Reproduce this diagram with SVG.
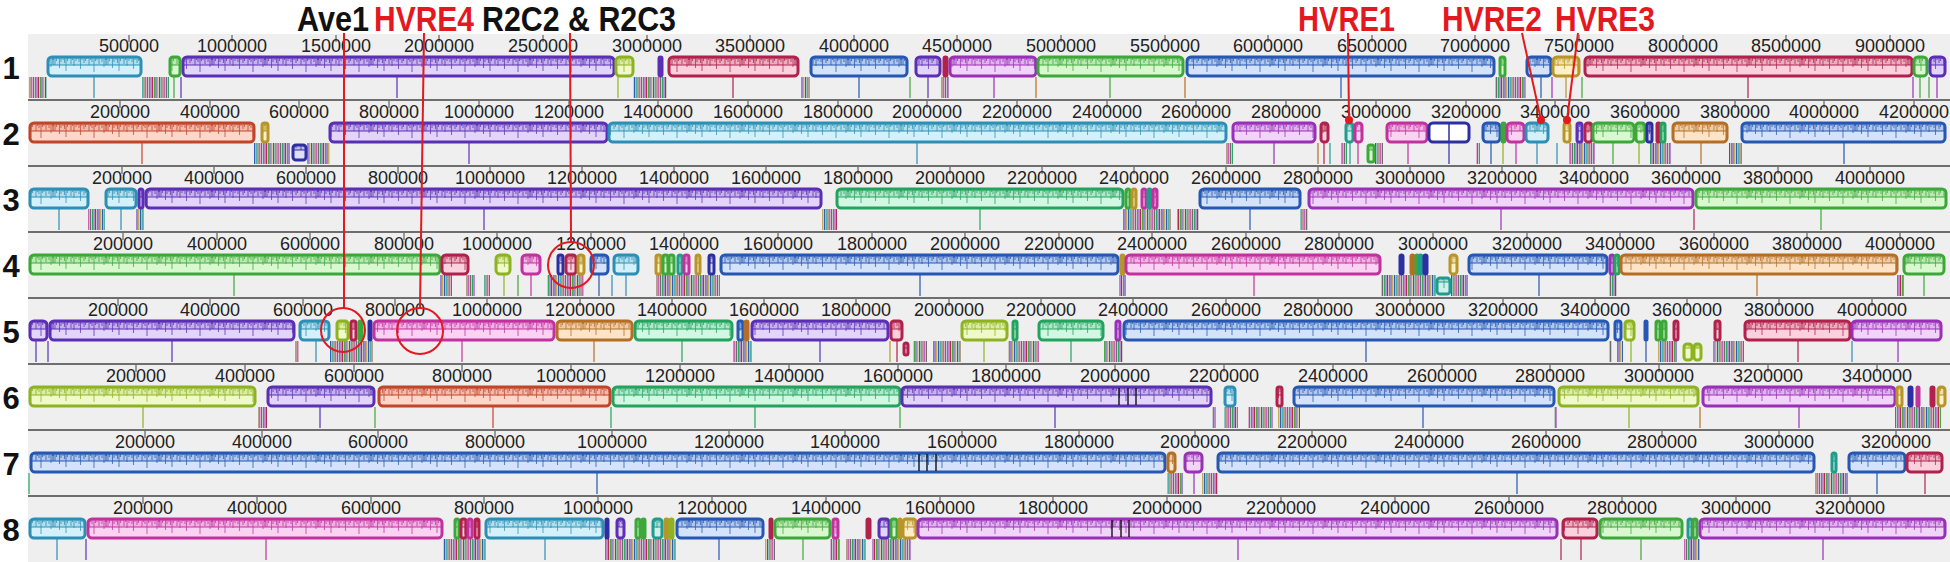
<svg xmlns="http://www.w3.org/2000/svg" xmlns:xlink="http://www.w3.org/1999/xlink" width="1950" height="562" viewBox="0 0 1950 562">
<style>
.bg{fill:#efefef}
.sep{stroke:#6e6e6e;stroke-width:2}
.rt{font-family:"Liberation Sans",Arial,sans-serif;font-size:18px;fill:#222;text-anchor:middle}
.tk{stroke:#444;stroke-width:1;fill:none}
.b{stroke-width:3}
.l{stroke-width:1.2;fill:none}
.cl{fill:url(#st)}
.num{font-family:"Liberation Sans",Arial,sans-serif;font-weight:bold;font-size:31px;fill:#111;text-anchor:middle}
.ann{font-family:"Liberation Sans",Arial,sans-serif;font-weight:bold;font-size:35px}
.red{fill:#e3191f}
.blk{fill:#111}
.rl{stroke:#e3191f;stroke-width:2;fill:none}
.dot{fill:#e3191f}
.bk{stroke:#111;stroke-width:1.4}
.c1{stroke:#2b8fb6}.b.c1{fill:url(#p1)}
.c2{stroke:#5b2fb5}.b.c2{fill:url(#p2)}
.c3{stroke:#3da83a}.b.c3{fill:url(#p3)}
.c4{stroke:#b0214d}.b.c4{fill:url(#p4)}
.c5{stroke:#2557b3}.b.c5{fill:url(#p5)}
.c6{stroke:#9a2fb8}.b.c6{fill:url(#p6)}
.c7{stroke:#8db321}.b.c7{fill:url(#p7)}
.c8{stroke:#b79528}.b.c8{fill:url(#p8)}
.c9{stroke:#b56f25}.b.c9{fill:url(#p9)}
.c10{stroke:#c2452a}.b.c10{fill:url(#p10)}
.c11{stroke:#24a35f}.b.c11{fill:url(#p11)}
.c12{stroke:#c1329f}.b.c12{fill:url(#p12)}
.c13{stroke:#1f9c8c}.b.c13{fill:url(#p13)}
.c14{stroke:#2e2ea3}.b.c14{fill:url(#p14)}
.b.wh{fill:#fff}
</style>
<defs>
<g id="tex">
<rect width="53" height="8" fill-opacity=".2"/>
<path stroke-width="1.1" stroke-opacity=".7" fill="none" d="M0.5 0v3M2 0v8M3.5 0v4M5 0v2M6.5 0v11M8 0v5M10 0v3M11.5 0v6M13 0v14M14.5 0v4M16 0v2M18 0v7M19.5 0v3M21 0v9M23 0v4M24.5 0v2M26 0v5M27.5 0v12M29 0v3M31 0v6M32.5 0v4M34 0v2M36 0v8M37.5 0v3M39 0v5M41 0v15M42.5 0v4M44 0v3M46 0v7M47.5 0v2M49 0v5M51 0v10M52.5 0v3"/>
</g>
<pattern id="p1" patternUnits="userSpaceOnUse" y="23" width="53" height="19"><rect width="53" height="19" fill="#d4f1fb"/><use xlink:href="#tex" href="#tex" stroke="#2b8fb6" fill="#2b8fb6"/></pattern>
<pattern id="p2" patternUnits="userSpaceOnUse" y="23" width="53" height="19"><rect width="53" height="19" fill="#e2d5f9"/><use xlink:href="#tex" href="#tex" stroke="#5b2fb5" fill="#5b2fb5"/></pattern>
<pattern id="p3" patternUnits="userSpaceOnUse" y="23" width="53" height="19"><rect width="53" height="19" fill="#d9f8d0"/><use xlink:href="#tex" href="#tex" stroke="#3da83a" fill="#3da83a"/></pattern>
<pattern id="p4" patternUnits="userSpaceOnUse" y="23" width="53" height="19"><rect width="53" height="19" fill="#fad1dd"/><use xlink:href="#tex" href="#tex" stroke="#b0214d" fill="#b0214d"/></pattern>
<pattern id="p5" patternUnits="userSpaceOnUse" y="23" width="53" height="19"><rect width="53" height="19" fill="#d4e3f9"/><use xlink:href="#tex" href="#tex" stroke="#2557b3" fill="#2557b3"/></pattern>
<pattern id="p6" patternUnits="userSpaceOnUse" y="23" width="53" height="19"><rect width="53" height="19" fill="#f0d5f9"/><use xlink:href="#tex" href="#tex" stroke="#9a2fb8" fill="#9a2fb8"/></pattern>
<pattern id="p7" patternUnits="userSpaceOnUse" y="23" width="53" height="19"><rect width="53" height="19" fill="#f0f9c9"/><use xlink:href="#tex" href="#tex" stroke="#8db321" fill="#8db321"/></pattern>
<pattern id="p8" patternUnits="userSpaceOnUse" y="23" width="53" height="19"><rect width="53" height="19" fill="#fcf0c8"/><use xlink:href="#tex" href="#tex" stroke="#b79528" fill="#b79528"/></pattern>
<pattern id="p9" patternUnits="userSpaceOnUse" y="23" width="53" height="19"><rect width="53" height="19" fill="#fde4c8"/><use xlink:href="#tex" href="#tex" stroke="#b56f25" fill="#b56f25"/></pattern>
<pattern id="p10" patternUnits="userSpaceOnUse" y="23" width="53" height="19"><rect width="53" height="19" fill="#fcd7ca"/><use xlink:href="#tex" href="#tex" stroke="#c2452a" fill="#c2452a"/></pattern>
<pattern id="p11" patternUnits="userSpaceOnUse" y="23" width="53" height="19"><rect width="53" height="19" fill="#d2f7e3"/><use xlink:href="#tex" href="#tex" stroke="#24a35f" fill="#24a35f"/></pattern>
<pattern id="p12" patternUnits="userSpaceOnUse" y="23" width="53" height="19"><rect width="53" height="19" fill="#fad2f2"/><use xlink:href="#tex" href="#tex" stroke="#c1329f" fill="#c1329f"/></pattern>
<pattern id="p13" patternUnits="userSpaceOnUse" y="23" width="53" height="19"><rect width="53" height="19" fill="#cfefea"/><use xlink:href="#tex" href="#tex" stroke="#1f9c8c" fill="#1f9c8c"/></pattern>
<pattern id="p14" patternUnits="userSpaceOnUse" y="23" width="53" height="19"><rect width="53" height="19" fill="#dedef7"/><use xlink:href="#tex" href="#tex" stroke="#2e2ea3" fill="#2e2ea3"/></pattern>
<pattern id="st" patternUnits="userSpaceOnUse" y="43" width="19" height="30">
<rect width="19" height="30" fill="#efefef"/>
<g stroke-width="1.1">
<path d="M0.6 0v30" stroke="#b0214d"/><path d="M2.4 0v30" stroke="#3da83a"/><path d="M4 0v30" stroke="#5b2fb5"/><path d="M5.8 0v30" stroke="#b79528"/><path d="M7.6 0v30" stroke="#2557b3"/><path d="M9.2 0v30" stroke="#1f9c8c"/><path d="M11 0v30" stroke="#8a5a3a"/><path d="M12.8 0v30" stroke="#c1329f"/><path d="M14.6 0v30" stroke="#666"/><path d="M16.4 0v30" stroke="#24a35f"/><path d="M18 0v30" stroke="#9a2fb8"/>
</g>
</pattern>
</defs>
<rect width="1950" height="562" fill="#fff"/>

<g id="panel1" transform="translate(0,34)">
<rect class="bg" x="28" y="0" width="1922" height="66"/>
<text class="num" x="11" y="45">1</text>
<path class="tk" d="M129 1v7M232 1v7M336 1v7M439 1v7M543 1v7M647 1v7M750 1v7M854 1v7M957 1v7M1061 1v7M1165 1v7M1268 1v7M1372 1v7M1475 1v7M1579 1v7M1683 1v7M1786 1v7M1890 1v7"/>
<g class="rt"><text x="129" y="18">500000</text><text x="232" y="18">1000000</text><text x="336" y="18">1500000</text><text x="439" y="18">2000000</text><text x="543" y="18">2500000</text><text x="647" y="18">3000000</text><text x="750" y="18">3500000</text><text x="854" y="18">4000000</text><text x="957" y="18">4500000</text><text x="1061" y="18">5000000</text><text x="1165" y="18">5500000</text><text x="1268" y="18">6000000</text><text x="1372" y="18">6500000</text><text x="1475" y="18">7000000</text><text x="1579" y="18">7500000</text><text x="1683" y="18">8000000</text><text x="1786" y="18">8500000</text><text x="1890" y="18">9000000</text></g>
<rect class="cl" x="29" y="43" width="18" height="21"/><rect class="cl" x="142" y="43" width="27" height="21"/><rect class="cl" x="633" y="43" width="34" height="21"/><rect class="cl" x="801" y="43" width="9" height="21"/><rect class="cl" x="941" y="43" width="8" height="21"/><rect class="cl" x="1495" y="43" width="31" height="21"/>
<path class="l c1" d="M94 43v21"/><path class="l c3" d="M174 43v21M1110 43v21M1920 43v21M1929 43v21"/><path class="l c2" d="M181 43v21M397 43v21M928 43v21"/><path class="l c7" d="M618 43v21"/><path class="l c4" d="M733 43v21M1748 43v21"/><path class="l c5" d="M859 43v21M1341 43v21M1541 43v21"/><path class="l c6" d="M994 43v21M1552 43v21M1913 43v21M1937 43v21"/><path class="l c9" d="M1036 43v21M1185 43v21"/><path class="l c8" d="M1566 43v21"/><path class="l c3" stroke-width="3" d="M910 43v21M1582 43v21"/>
<rect class="b c1" x="48" y="23" width="93" height="19" rx="4"/>
<rect class="b c3" x="170" y="23" width="10" height="19" rx="3"/>
<rect class="b c2" x="183" y="23" width="431" height="19" rx="4"/>
<rect class="b c7" x="616" y="23" width="17" height="19" rx="4"/>
<rect class="b c2" x="659" y="23" width="3" height="19" rx="1.5"/>
<rect class="b c4" x="669" y="23" width="129" height="19" rx="4"/>
<rect class="b c5" x="811" y="23" width="96" height="19" rx="4"/>
<rect class="b c2" x="916" y="23" width="24" height="19" rx="4"/>
<rect class="b c4" x="944" y="23" width="3" height="19" rx="1.5"/>
<rect class="b c6" x="950" y="23" width="86" height="19" rx="4"/>
<rect class="b c3" x="1038" y="23" width="145" height="19" rx="4"/>
<rect class="b c5" x="1187" y="23" width="307" height="19" rx="4"/>
<rect class="b c3" x="1500" y="23" width="5" height="19" rx="2"/>
<rect class="b c5" x="1527" y="23" width="24" height="19" rx="4"/>
<rect class="b c8" x="1553" y="23" width="26" height="19" rx="4"/>
<rect class="b c4" x="1585" y="23" width="327" height="19" rx="4"/>
<rect class="b c3" x="1914" y="23" width="13" height="19" rx="4"/>
<rect class="b c2" x="1930" y="23" width="15" height="19" rx="4"/>
</g>

<g id="panel2" transform="translate(0,100)">
<rect class="bg" x="28" y="0" width="1922" height="66"/>
<path class="sep" d="M28 0H1950"/>
<text class="num" x="11" y="45">2</text>
<path class="tk" d="M120 1v7M210 1v7M299 1v7M389 1v7M479 1v7M569 1v7M658 1v7M748 1v7M838 1v7M927 1v7M1017 1v7M1107 1v7M1196 1v7M1286 1v7M1376 1v7M1466 1v7M1555 1v7M1645 1v7M1735 1v7M1824 1v7M1914 1v7"/>
<g class="rt"><text x="120" y="18">200000</text><text x="210" y="18">400000</text><text x="299" y="18">600000</text><text x="389" y="18">800000</text><text x="479" y="18">1000000</text><text x="569" y="18">1200000</text><text x="658" y="18">1400000</text><text x="748" y="18">1600000</text><text x="838" y="18">1800000</text><text x="927" y="18">2000000</text><text x="1017" y="18">2200000</text><text x="1107" y="18">2400000</text><text x="1196" y="18">2600000</text><text x="1286" y="18">2800000</text><text x="1376" y="18">3000000</text><text x="1466" y="18">3200000</text><text x="1555" y="18">3400000</text><text x="1645" y="18">3600000</text><text x="1735" y="18">3800000</text><text x="1824" y="18">4000000</text><text x="1914" y="18">4200000</text></g>
<rect class="cl" x="254" y="43" width="36" height="21"/><rect class="cl" x="307" y="43" width="23" height="21"/><rect class="cl" x="1226" y="43" width="7" height="21"/><rect class="cl" x="1341" y="43" width="6" height="21"/><rect class="cl" x="1375" y="43" width="8" height="21"/><rect class="cl" x="1476" y="43" width="4" height="21"/><rect class="cl" x="1569" y="43" width="26" height="21"/><rect class="cl" x="1650" y="43" width="21" height="21"/><rect class="cl" x="1729" y="43" width="13" height="21"/>
<path class="l c10" d="M142 43v21"/><path class="l c2" d="M469 43v21"/><path class="l c1" d="M917 43v21M1537 43v21M1557 43v21"/><path class="l c6" d="M1274 43v21"/><path class="l c9" d="M1318 43v21M1701 43v21"/><path class="l c4" d="M1324 43v21"/><path class="l c13" d="M1330 43v21M1350 43v21"/><path class="l c12" d="M1358 43v21M1408 43v21M1516 43v21"/><path class="l c14" d="M1449 43v21"/><path class="l c5" d="M1491 43v21M1844 43v21"/><path class="l c7" d="M1503 43v21M1639 43v21"/><path class="l c3" d="M1613 43v21"/>
<rect class="b c14" x="293" y="45" width="13" height="15" rx="3"/>
<rect class="b c3" x="1368" y="45" width="6" height="17" rx="2"/>
<rect class="b c10" x="30" y="23" width="224" height="19" rx="4"/>
<rect class="b c8" x="262" y="23" width="6" height="19" rx="2.5"/>
<rect class="b c2" x="330" y="23" width="277" height="19" rx="4"/>
<rect class="b c1" x="609" y="23" width="617" height="19" rx="4"/>
<rect class="b c6" x="1233" y="23" width="82" height="19" rx="4"/>
<rect class="b c4" x="1321" y="23" width="7" height="19" rx="3"/>
<rect class="b c13" x="1346" y="23" width="7" height="19" rx="3"/>
<rect class="b c12" x="1355" y="23" width="7" height="19" rx="3"/>
<rect class="b c12" x="1387" y="23" width="40" height="19" rx="4"/>
<rect class="b c14 wh" x="1429" y="23" width="40" height="19" rx="4"/>
<path class="c14" stroke-width="1.5" d="M1449 23v19"/>
<rect class="b c5" x="1483" y="23" width="17" height="19" rx="4"/>
<rect class="b c3" x="1502" y="23" width="3" height="19" rx="1.5"/>
<rect class="b c12" x="1507" y="23" width="17" height="19" rx="4"/>
<rect class="b c1" x="1526" y="23" width="22" height="19" rx="4"/>
<rect class="b c8" x="1564" y="23" width="6" height="19" rx="2.5"/>
<rect class="b c2" x="1577" y="23" width="5" height="19" rx="2"/>
<rect class="b c4" x="1585" y="23" width="7" height="19" rx="3"/>
<rect class="b c3" x="1593" y="23" width="41" height="19" rx="4"/>
<rect class="b c3" x="1636" y="23" width="9" height="19" rx="3"/>
<rect class="b c14" x="1647" y="23" width="5" height="19" rx="2"/>
<rect class="b c4" x="1657" y="23" width="3" height="19" rx="1.5"/>
<rect class="b c11" x="1661" y="23" width="4" height="19" rx="2"/>
<rect class="b c9" x="1673" y="23" width="54" height="19" rx="4"/>
<rect class="b c5" x="1742" y="23" width="203" height="19" rx="4"/>
</g>

<g id="panel3" transform="translate(0,166)">
<rect class="bg" x="28" y="0" width="1922" height="66"/>
<path class="sep" d="M28 0H1950"/>
<text class="num" x="11" y="45">3</text>
<path class="tk" d="M122 1v7M214 1v7M306 1v7M398 1v7M490 1v7M582 1v7M674 1v7M766 1v7M858 1v7M950 1v7M1042 1v7M1134 1v7M1226 1v7M1318 1v7M1410 1v7M1502 1v7M1594 1v7M1686 1v7M1778 1v7M1870 1v7"/>
<g class="rt"><text x="122" y="18">200000</text><text x="214" y="18">400000</text><text x="306" y="18">600000</text><text x="398" y="18">800000</text><text x="490" y="18">1000000</text><text x="582" y="18">1200000</text><text x="674" y="18">1400000</text><text x="766" y="18">1600000</text><text x="858" y="18">1800000</text><text x="950" y="18">2000000</text><text x="1042" y="18">2200000</text><text x="1134" y="18">2400000</text><text x="1226" y="18">2600000</text><text x="1318" y="18">2800000</text><text x="1410" y="18">3000000</text><text x="1502" y="18">3200000</text><text x="1594" y="18">3400000</text><text x="1686" y="18">3600000</text><text x="1778" y="18">3800000</text><text x="1870" y="18">4000000</text></g>
<rect class="cl" x="88" y="43" width="17" height="21"/><rect class="cl" x="136" y="43" width="8" height="21"/><rect class="cl" x="822" y="43" width="15" height="21"/><rect class="cl" x="1123" y="43" width="48" height="21"/><rect class="cl" x="1177" y="43" width="22" height="21"/><rect class="cl" x="1300" y="43" width="8" height="21"/>
<path class="l c1" d="M59 43v21M121 43v21"/><path class="l c2" d="M484 43v21"/><path class="l c11" d="M980 43v21"/><path class="l c5" d="M1250 43v21"/><path class="l c6" d="M1501 43v21"/><path class="l c4" d="M1694 43v21"/><path class="l c3" d="M1821 43v21"/>
<rect class="b c1" x="30" y="23" width="58" height="19" rx="4"/>
<rect class="b c1" x="106" y="23" width="30" height="19" rx="4"/>
<rect class="b c2" x="139" y="23" width="4" height="19" rx="2"/>
<rect class="b c2" x="146" y="23" width="675" height="19" rx="4"/>
<rect class="b c11" x="837" y="23" width="286" height="19" rx="4"/>
<rect class="b c3" x="1126" y="23" width="4" height="19" rx="2"/>
<rect class="b c8" x="1132" y="23" width="4" height="19" rx="2"/>
<rect class="b c12" x="1142" y="23" width="4" height="19" rx="2"/>
<rect class="b c13" x="1148" y="23" width="3" height="19" rx="1.5"/>
<rect class="b c12" x="1153" y="23" width="4" height="19" rx="2"/>
<rect class="b c5" x="1200" y="23" width="100" height="19" rx="4"/>
<rect class="b c6" x="1309" y="23" width="384" height="19" rx="4"/>
<rect class="b c3" x="1696" y="23" width="250" height="19" rx="4"/>
</g>

<g id="panel4" transform="translate(0,232)">
<rect class="bg" x="28" y="0" width="1922" height="66"/>
<path class="sep" d="M28 0H1950"/>
<text class="num" x="11" y="45">4</text>
<path class="tk" d="M123 1v7M217 1v7M310 1v7M404 1v7M497 1v7M591 1v7M684 1v7M778 1v7M872 1v7M965 1v7M1059 1v7M1152 1v7M1246 1v7M1339 1v7M1433 1v7M1527 1v7M1620 1v7M1714 1v7M1807 1v7M1900 1v7"/>
<g class="rt"><text x="123" y="18">200000</text><text x="217" y="18">400000</text><text x="310" y="18">600000</text><text x="404" y="18">800000</text><text x="497" y="18">1000000</text><text x="591" y="18">1200000</text><text x="684" y="18">1400000</text><text x="778" y="18">1600000</text><text x="872" y="18">1800000</text><text x="965" y="18">2000000</text><text x="1059" y="18">2200000</text><text x="1152" y="18">2400000</text><text x="1246" y="18">2600000</text><text x="1339" y="18">2800000</text><text x="1433" y="18">3000000</text><text x="1527" y="18">3200000</text><text x="1620" y="18">3400000</text><text x="1714" y="18">3600000</text><text x="1807" y="18">3800000</text><text x="1900" y="18">4000000</text></g>
<rect class="cl" x="440" y="43" width="12" height="21"/><rect class="cl" x="466" y="43" width="9" height="21"/><rect class="cl" x="484" y="43" width="6" height="21"/><rect class="cl" x="547" y="43" width="37" height="21"/><rect class="cl" x="656" y="43" width="64" height="21"/><rect class="cl" x="1119" y="43" width="7" height="21"/><rect class="cl" x="1381" y="43" width="55" height="21"/><rect class="cl" x="1451" y="43" width="17" height="21"/><rect class="cl" x="1609" y="43" width="8" height="21"/><rect class="cl" x="1897" y="43" width="7" height="21"/>
<path class="l c3" d="M234 43v21M518 43v21M1924 43v21"/><path class="l c7" d="M504 43v21"/><path class="l c12" d="M531 43v21M1254 43v21"/><path class="l c5" d="M599 43v21M920 43v21M1539 43v21"/><path class="l c1" d="M612 43v21M626 43v21"/><path class="l c9" d="M1757 43v21"/>
<rect class="b c13" x="1437" y="46" width="13" height="16" rx="3"/>
<rect class="b c3" x="30" y="23" width="410" height="19" rx="4"/>
<rect class="b c4" x="442" y="23" width="26" height="19" rx="4"/>
<rect class="b c7" x="496" y="23" width="14" height="19" rx="4"/>
<rect class="b c12" x="522" y="23" width="18" height="19" rx="4"/>
<rect class="b c14" x="558" y="23" width="5" height="19" rx="2"/>
<rect class="b c4" x="566" y="23" width="10" height="19" rx="3"/>
<rect class="b c8" x="578" y="23" width="6" height="19" rx="2.5"/>
<rect class="b c5" x="591" y="23" width="17" height="19" rx="4"/>
<rect class="b c1" x="614" y="23" width="24" height="19" rx="4"/>
<rect class="b c8" x="656" y="23" width="5" height="19" rx="2"/>
<rect class="b c3" x="663" y="23" width="5" height="19" rx="2"/>
<rect class="b c3" x="669" y="23" width="5" height="19" rx="2"/>
<rect class="b c13" x="678" y="23" width="4" height="19" rx="2"/>
<rect class="b c12" x="684" y="23" width="5" height="19" rx="2"/>
<rect class="b c8" x="696" y="23" width="4" height="19" rx="2"/>
<rect class="b c14" x="709" y="23" width="5" height="19" rx="2"/>
<rect class="b c5" x="721" y="23" width="397" height="19" rx="4"/>
<rect class="b c8" x="1121" y="23" width="3" height="19" rx="1.5"/>
<rect class="b c12" x="1126" y="23" width="254" height="19" rx="4"/>
<rect class="b c14" x="1400" y="23" width="3" height="19" rx="1.5"/>
<rect class="b c9" x="1411" y="23" width="3" height="19" rx="1.5"/>
<rect class="b c3" x="1416" y="23" width="2" height="19" rx="1"/>
<rect class="b c13" x="1419" y="23" width="3" height="19" rx="1.5"/>
<rect class="b c14" x="1424" y="23" width="3" height="19" rx="1.5"/>
<rect class="b c8" x="1450" y="23" width="7" height="19" rx="3"/>
<rect class="b c5" x="1469" y="23" width="138" height="19" rx="4"/>
<rect class="b c6" x="1610" y="23" width="4" height="19" rx="2"/>
<rect class="b c11" x="1615" y="23" width="4" height="19" rx="2"/>
<rect class="b c9" x="1621" y="23" width="276" height="19" rx="4"/>
<rect class="b c3" x="1904" y="23" width="40" height="19" rx="4"/>
</g>

<g id="panel5" transform="translate(0,298)">
<rect class="bg" x="28" y="0" width="1922" height="66"/>
<path class="sep" d="M28 0H1950"/>
<text class="num" x="11" y="45">5</text>
<path class="tk" d="M118 1v7M210 1v7M303 1v7M395 1v7M487 1v7M580 1v7M672 1v7M764 1v7M856 1v7M949 1v7M1041 1v7M1133 1v7M1226 1v7M1318 1v7M1410 1v7M1503 1v7M1595 1v7M1687 1v7M1779 1v7M1872 1v7"/>
<g class="rt"><text x="118" y="18">200000</text><text x="210" y="18">400000</text><text x="303" y="18">600000</text><text x="395" y="18">800000</text><text x="487" y="18">1000000</text><text x="580" y="18">1200000</text><text x="672" y="18">1400000</text><text x="764" y="18">1600000</text><text x="856" y="18">1800000</text><text x="949" y="18">2000000</text><text x="1041" y="18">2200000</text><text x="1133" y="18">2400000</text><text x="1226" y="18">2600000</text><text x="1318" y="18">2800000</text><text x="1410" y="18">3000000</text><text x="1503" y="18">3200000</text><text x="1595" y="18">3400000</text><text x="1687" y="18">3600000</text><text x="1779" y="18">3800000</text><text x="1872" y="18">4000000</text></g>
<rect class="cl" x="295" y="43" width="4" height="21"/><rect class="cl" x="330" y="43" width="43" height="21"/><rect class="cl" x="733" y="43" width="19" height="21"/><rect class="cl" x="913" y="43" width="14" height="21"/><rect class="cl" x="933" y="43" width="28" height="21"/><rect class="cl" x="1008" y="43" width="31" height="21"/><rect class="cl" x="1104" y="43" width="19" height="21"/><rect class="cl" x="1609" y="43" width="3" height="21"/><rect class="cl" x="1617" y="43" width="6" height="21"/><rect class="cl" x="1658" y="43" width="19" height="21"/><rect class="cl" x="1713" y="43" width="31" height="21"/>
<path class="l c2" d="M36 43v21M48 43v21M172 43v21M820 43v21"/><path class="l c1" d="M316 43v21M1852 43v21"/><path class="l c12" d="M462 43v21"/><path class="l c9" d="M594 43v21"/><path class="l c11" d="M682 43v21M1071 43v21"/><path class="l c8" d="M890 43v21"/><path class="l c4" d="M897 43v21M1798 43v21"/><path class="l c7" d="M984 43v21M1631 43v21"/><path class="l c5" d="M1366 43v21M1646 43v21"/><path class="l c6" d="M1898 43v21"/>
<rect class="b c4" x="904" y="45" width="4" height="12" rx="2"/>
<rect class="b c7" x="1684" y="46" width="8" height="16" rx="3"/>
<rect class="b c7" x="1694" y="46" width="7" height="16" rx="3"/>
<rect class="b c2" x="30" y="23" width="17" height="19" rx="4"/>
<rect class="b c2" x="50" y="23" width="244" height="19" rx="4"/>
<rect class="b c1" x="300" y="23" width="29" height="19" rx="4"/>
<rect class="b c7" x="337" y="23" width="11" height="19" rx="3"/>
<rect class="b c4" x="351" y="23" width="5" height="19" rx="2"/>
<rect class="b c3" x="359" y="23" width="3" height="19" rx="1.5"/>
<rect class="b c14" x="369" y="23" width="2" height="19" rx="1"/>
<rect class="b c12" x="374" y="23" width="180" height="19" rx="4"/>
<rect class="b c9" x="557" y="23" width="75" height="19" rx="4"/>
<rect class="b c11" x="635" y="23" width="97" height="19" rx="4"/>
<rect class="b c5" x="738" y="23" width="5" height="19" rx="2"/>
<rect class="b c9" x="745" y="23" width="3" height="19" rx="1.5"/>
<rect class="b c2" x="752" y="23" width="136" height="19" rx="4"/>
<rect class="b c4" x="891" y="23" width="11" height="19" rx="3"/>
<rect class="b c7" x="962" y="23" width="45" height="19" rx="4"/>
<rect class="b c11" x="1013" y="23" width="4" height="19" rx="2"/>
<rect class="b c11" x="1039" y="23" width="64" height="19" rx="4"/>
<rect class="b c6" x="1116" y="23" width="4" height="19" rx="2"/>
<rect class="b c5" x="1124" y="23" width="484" height="19" rx="4"/>
<rect class="b c5" x="1615" y="23" width="6" height="19" rx="2.5"/>
<rect class="b c7" x="1625" y="23" width="9" height="19" rx="3"/>
<rect class="b c5" x="1645" y="23" width="2" height="19" rx="1"/>
<rect class="b c3" x="1656" y="23" width="4" height="19" rx="2"/>
<rect class="b c3" x="1662" y="23" width="4" height="19" rx="2"/>
<rect class="b c4" x="1674" y="23" width="4" height="19" rx="2"/>
<rect class="b c4" x="1715" y="23" width="5" height="19" rx="2"/>
<rect class="b c4" x="1745" y="23" width="105" height="19" rx="4"/>
<rect class="b c6" x="1852" y="23" width="89" height="19" rx="4"/>
</g>

<g id="panel6" transform="translate(0,364)">
<rect class="bg" x="28" y="0" width="1922" height="66"/>
<path class="sep" d="M28 0H1950"/>
<text class="num" x="11" y="45">6</text>
<path class="tk" d="M136 1v7M245 1v7M354 1v7M462 1v7M571 1v7M680 1v7M789 1v7M898 1v7M1006 1v7M1115 1v7M1224 1v7M1333 1v7M1442 1v7M1550 1v7M1659 1v7M1768 1v7M1877 1v7"/>
<g class="rt"><text x="136" y="18">200000</text><text x="245" y="18">400000</text><text x="354" y="18">600000</text><text x="462" y="18">800000</text><text x="571" y="18">1000000</text><text x="680" y="18">1200000</text><text x="789" y="18">1400000</text><text x="898" y="18">1600000</text><text x="1006" y="18">1800000</text><text x="1115" y="18">2000000</text><text x="1224" y="18">2200000</text><text x="1333" y="18">2400000</text><text x="1442" y="18">2600000</text><text x="1550" y="18">2800000</text><text x="1659" y="18">3000000</text><text x="1768" y="18">3200000</text><text x="1877" y="18">3400000</text></g>
<rect class="cl" x="258" y="43" width="9" height="21"/><rect class="cl" x="1212" y="43" width="4" height="21"/><rect class="cl" x="1224" y="43" width="14" height="21"/><rect class="cl" x="1248" y="43" width="25" height="21"/><rect class="cl" x="1278" y="43" width="22" height="21"/><rect class="cl" x="1554" y="43" width="3" height="21"/><rect class="cl" x="1895" y="43" width="46" height="21"/>
<path class="l c7" d="M143 43v21M1629 43v21"/><path class="l c2" d="M320 43v21M1055 43v21"/><path class="l c3" d="M375 43v21M900 43v21"/><path class="l c10" d="M493 43v21"/><path class="l c11" d="M611 43v21M755 43v21"/><path class="l c5" d="M1423 43v21"/><path class="l c9" d="M1700 43v21"/><path class="l c6" d="M1799 43v21"/>
<rect class="b c7" x="30" y="23" width="225" height="19" rx="4"/>
<rect class="b c2" x="268" y="23" width="106" height="19" rx="4"/>
<rect class="b c10" x="379" y="23" width="231" height="19" rx="4"/>
<rect class="b c11" x="613" y="23" width="287" height="19" rx="4"/>
<rect class="b c2" x="902" y="23" width="309" height="19" rx="4"/>
<path class="bk" d="M1119 24v17M1128 24v17M1136 24v17"/>
<rect class="b c1" x="1225" y="23" width="10" height="19" rx="3"/>
<rect class="b c4" x="1277" y="23" width="5" height="19" rx="2"/>
<rect class="b c5" x="1294" y="23" width="260" height="19" rx="4"/>
<rect class="b c7" x="1559" y="23" width="139" height="19" rx="4"/>
<rect class="b c6" x="1703" y="23" width="192" height="19" rx="4"/>
<rect class="b c8" x="1897" y="23" width="5" height="19" rx="2"/>
<rect class="b c14" x="1909" y="23" width="3" height="19" rx="1.5"/>
<rect class="b c12" x="1917" y="23" width="2" height="19" rx="1"/>
<rect class="b c4" x="1931" y="23" width="3" height="19" rx="1.5"/>
<rect class="b c8" x="1938" y="23" width="7" height="19" rx="3"/>
</g>

<g id="panel7" transform="translate(0,430)">
<rect class="bg" x="28" y="0" width="1922" height="66"/>
<path class="sep" d="M28 0H1950"/>
<text class="num" x="11" y="45">7</text>
<path class="tk" d="M145 1v7M262 1v7M378 1v7M495 1v7M612 1v7M729 1v7M845 1v7M962 1v7M1079 1v7M1195 1v7M1312 1v7M1429 1v7M1546 1v7M1662 1v7M1779 1v7M1896 1v7"/>
<g class="rt"><text x="145" y="18">200000</text><text x="262" y="18">400000</text><text x="378" y="18">600000</text><text x="495" y="18">800000</text><text x="612" y="18">1000000</text><text x="729" y="18">1200000</text><text x="845" y="18">1400000</text><text x="962" y="18">1600000</text><text x="1079" y="18">1800000</text><text x="1195" y="18">2000000</text><text x="1312" y="18">2200000</text><text x="1429" y="18">2400000</text><text x="1546" y="18">2600000</text><text x="1662" y="18">2800000</text><text x="1779" y="18">3000000</text><text x="1896" y="18">3200000</text></g>
<rect class="cl" x="1167" y="43" width="16" height="21"/><rect class="cl" x="1202" y="43" width="16" height="21"/><rect class="cl" x="1815" y="43" width="33" height="21"/>
<path class="l c11" d="M29 43v21"/><path class="l c5" d="M597 43v21M1517 43v21M1877 43v21"/><path class="l c6" d="M1194 43v21"/><path class="l c4" d="M1925 43v21"/>
<rect class="b c5" x="31" y="23" width="1134" height="19" rx="4"/>
<path class="bk" d="M919 24v17M927 24v17M936 24v17"/>
<rect class="b c9" x="1168" y="23" width="7" height="19" rx="3"/>
<rect class="b c6" x="1185" y="23" width="17" height="19" rx="4"/>
<rect class="b c5" x="1218" y="23" width="596" height="19" rx="4"/>
<rect class="b c13" x="1832" y="23" width="4" height="19" rx="2"/>
<rect class="b c5" x="1849" y="23" width="56" height="19" rx="4"/>
<rect class="b c4" x="1907" y="23" width="35" height="19" rx="4"/>
</g>

<g id="panel8" transform="translate(0,496)">
<rect class="bg" x="28" y="0" width="1922" height="66"/>
<path class="sep" d="M28 0H1950"/>
<text class="num" x="11" y="45">8</text>
<path class="tk" d="M143 1v7M257 1v7M371 1v7M484 1v7M598 1v7M712 1v7M826 1v7M940 1v7M1053 1v7M1167 1v7M1281 1v7M1395 1v7M1509 1v7M1622 1v7M1736 1v7M1850 1v7"/>
<g class="rt"><text x="143" y="18">200000</text><text x="257" y="18">400000</text><text x="371" y="18">600000</text><text x="484" y="18">800000</text><text x="598" y="18">1000000</text><text x="712" y="18">1200000</text><text x="826" y="18">1400000</text><text x="940" y="18">1600000</text><text x="1053" y="18">1800000</text><text x="1167" y="18">2000000</text><text x="1281" y="18">2200000</text><text x="1395" y="18">2400000</text><text x="1509" y="18">2600000</text><text x="1622" y="18">2800000</text><text x="1736" y="18">3000000</text><text x="1850" y="18">3200000</text></g>
<rect class="cl" x="443" y="43" width="43" height="21"/><rect class="cl" x="605" y="43" width="71" height="21"/><rect class="cl" x="765" y="43" width="10" height="21"/><rect class="cl" x="830" y="43" width="10" height="21"/><rect class="cl" x="846" y="43" width="20" height="21"/><rect class="cl" x="872" y="43" width="39" height="21"/><rect class="cl" x="1684" y="43" width="16" height="21"/>
<path class="l c1" d="M57 43v21M545 43v21"/><path class="l c2" d="M86 43v21"/><path class="l c12" d="M266 43v21"/><path class="l c5" d="M719 43v21"/><path class="l c3" d="M803 43v21M1641 43v21"/><path class="l c6" d="M1238 43v21M1823 43v21"/><path class="l c4" d="M1561 43v21M1581 43v21"/>
<rect class="b c1" x="30" y="23" width="55" height="19" rx="4"/>
<rect class="b c12" x="88" y="23" width="354" height="19" rx="4"/>
<rect class="b c3" x="455" y="23" width="4" height="19" rx="2"/>
<rect class="b c4" x="461" y="23" width="5" height="19" rx="2"/>
<rect class="b c12" x="468" y="23" width="4" height="19" rx="2"/>
<rect class="b c4" x="475" y="23" width="4" height="19" rx="2"/>
<rect class="b c1" x="486" y="23" width="117" height="19" rx="4"/>
<rect class="b c14" x="606" y="23" width="2" height="19" rx="1"/>
<rect class="b c2" x="617" y="23" width="7" height="19" rx="3"/>
<rect class="b c3" x="636" y="23" width="4" height="19" rx="2"/>
<rect class="b c3" x="642" y="23" width="3" height="19" rx="1.5"/>
<rect class="b c13" x="653" y="23" width="9" height="19" rx="3"/>
<rect class="b c8" x="665" y="23" width="3" height="19" rx="1.5"/>
<rect class="b c7" x="670" y="23" width="3" height="19" rx="1.5"/>
<rect class="b c5" x="677" y="23" width="86" height="19" rx="4"/>
<rect class="b c4" x="770" y="23" width="2" height="19" rx="1"/>
<rect class="b c3" x="775" y="23" width="55" height="19" rx="4"/>
<rect class="b c12" x="833" y="23" width="5" height="19" rx="2"/>
<rect class="b c4" x="867" y="23" width="3" height="19" rx="1.5"/>
<rect class="b c2" x="879" y="23" width="10" height="19" rx="3"/>
<rect class="b c3" x="891" y="23" width="6" height="19" rx="2.5"/>
<rect class="b c8" x="899" y="23" width="2" height="19" rx="1"/>
<rect class="b c8" x="903" y="23" width="13" height="19" rx="3"/>
<rect class="b c6" x="918" y="23" width="639" height="19" rx="4"/>
<path class="bk" d="M1112 24v17M1121 24v17M1129 24v17"/>
<rect class="b c4" x="1563" y="23" width="34" height="19" rx="4"/>
<rect class="b c3" x="1600" y="23" width="82" height="19" rx="4"/>
<rect class="b c13" x="1688" y="23" width="4" height="19" rx="2"/>
<rect class="b c3" x="1693" y="23" width="4" height="19" rx="2"/>
<rect class="b c6" x="1700" y="23" width="245" height="19" rx="4"/>
</g>

<g id="labels">
<text class="ann blk" x="297" y="31" textLength="72" lengthAdjust="spacingAndGlyphs">Ave1</text>
<text class="ann red" x="374" y="31" textLength="100" lengthAdjust="spacingAndGlyphs">HVRE4</text>
<text class="ann blk" x="482" y="31" textLength="194" lengthAdjust="spacingAndGlyphs">R2C2 &amp; R2C3</text>
<text class="ann red" x="1298" y="31" textLength="97" lengthAdjust="spacingAndGlyphs">HVRE1</text>
<text class="ann red" x="1442" y="31" textLength="100" lengthAdjust="spacingAndGlyphs">HVRE2</text>
<text class="ann red" x="1555" y="31" textLength="100" lengthAdjust="spacingAndGlyphs">HVRE3</text>
</g>

<g id="connectors">
<path class="rl" d="M344 33V308"/>
<path class="rl" d="M424 33L420 308"/>
<path class="rl" d="M570 33L571 242"/>
<path class="rl" d="M1348 33L1349 120"/>
<path class="rl" d="M1522 33L1541 120"/>
<path class="rl" d="M1578 33L1567 120"/>
<circle class="rl" cx="343" cy="330" r="22"/>
<circle class="rl" cx="420" cy="331" r="23"/>
<circle class="rl" cx="571" cy="265" r="23"/>
<circle class="dot" cx="1349" cy="120" r="4"/>
<circle class="dot" cx="1541" cy="120" r="4"/>
<circle class="dot" cx="1567" cy="120" r="4"/>
</g>
</svg>
